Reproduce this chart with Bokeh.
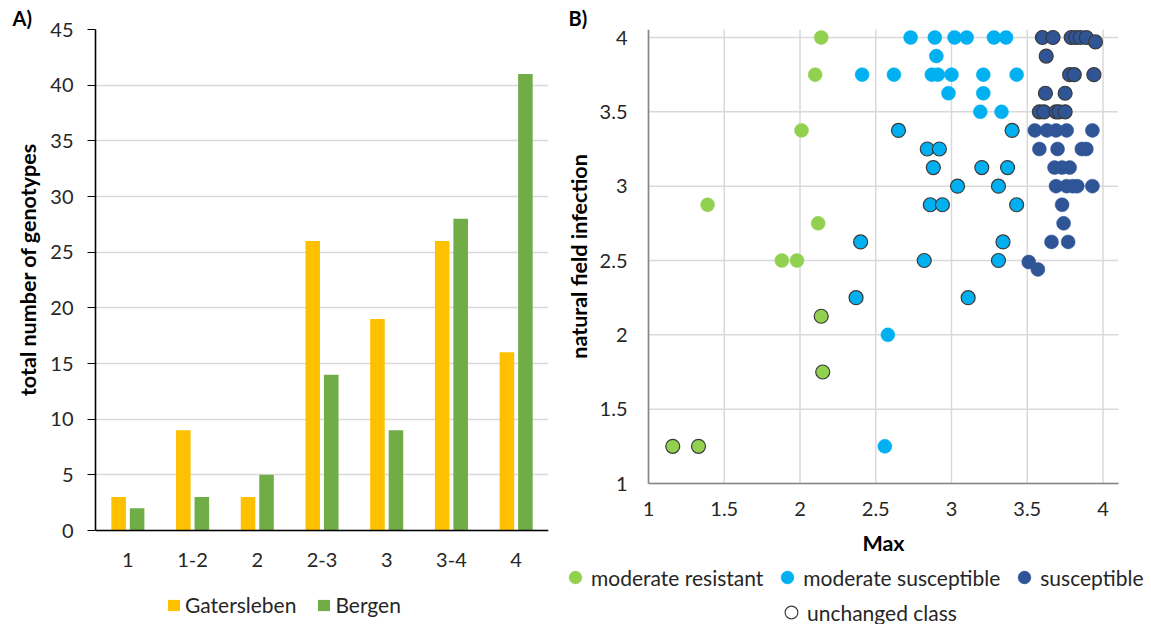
from bokeh.plotting import figure
from bokeh.layouts import row
from bokeh.models import (ColumnDataSource, FactorRange, Range1d, FixedTicker,
                          Legend, LegendItem)
from bokeh.transform import dodge
from bokeh.embed import file_html
from bokeh.resources import INLINE

FONT = "Lato"

# ---------------- Panel A data ----------------
categories = ["1", "1-2", "2", "2-3", "3", "3-4", "4"]
gatersleben = [3, 9, 3, 26, 19, 26, 16]
bergen = [2, 3, 5, 14, 9, 28, 41]
a_yticks = [0, 5, 10, 15, 20, 25, 30, 35, 40, 45]
a_min, a_max = 0, 45

# ---------------- Panel B data ----------------
# moderate resistant
mr_changed_max = [2.14, 2.10, 2.01, 1.39, 2.12, 1.88, 1.98]
mr_changed_field = [4.0, 3.75, 3.375, 2.875, 2.75, 2.5, 2.5]
mr_unchanged_max = [2.14, 2.15, 1.16, 1.33]
mr_unchanged_field = [2.125, 1.75, 1.25, 1.25]

# moderate susceptible
ms_changed_max = [2.73, 2.89, 3.02, 3.10, 3.28, 3.36, 2.90, 2.41, 2.62, 2.87,
                  2.91, 3.00, 3.21, 3.43, 2.98, 3.21, 3.19, 3.33, 2.58, 2.56]
ms_changed_field = [4.0, 4.0, 4.0, 4.0, 4.0, 4.0, 3.875, 3.75, 3.75, 3.75,
                    3.75, 3.75, 3.75, 3.75, 3.625, 3.625, 3.5, 3.5, 2.0, 1.25]
ms_unchanged_max = [2.65, 3.40, 2.84, 2.92, 2.88, 3.20, 3.37, 3.04, 3.31,
                    2.86, 2.94, 3.43, 2.40, 3.34, 2.82, 3.31, 3.11, 2.37]
ms_unchanged_field = [3.375, 3.375, 3.25, 3.25, 3.125, 3.125, 3.125, 3.0, 3.0,
                      2.875, 2.875, 2.875, 2.625, 2.625, 2.5, 2.5, 2.25, 2.25]

# susceptible
s_changed_max = [3.55, 3.63, 3.69, 3.76, 3.93, 3.58, 3.70, 3.86, 3.89,
                 3.68, 3.73, 3.78, 3.69, 3.76, 3.80, 3.83, 3.93,
                 3.73, 3.74, 3.66, 3.77, 3.51, 3.57]
s_changed_field = [3.375, 3.375, 3.375, 3.375, 3.375, 3.25, 3.25, 3.25, 3.25,
                   3.125, 3.125, 3.125, 3.0, 3.0, 3.0, 3.0, 3.0,
                   2.875, 2.75, 2.625, 2.625, 2.49, 2.44]
s_unchanged_max = [3.60, 3.67, 3.79, 3.82, 3.85, 3.89, 3.95, 3.625,
                   3.78, 3.81, 3.94, 3.62, 3.75, 3.58, 3.61, 3.69, 3.71, 3.75]
s_unchanged_field = [4.0, 4.0, 4.0, 4.0, 4.0, 4.0, 3.97, 3.875,
                     3.75, 3.75, 3.75, 3.625, 3.625, 3.5, 3.5, 3.5, 3.5, 3.5]

b_ticks = [1, 1.5, 2, 2.5, 3, 3.5, 4]
b_min, b_max = 1, 4
b_xmax = 4.1

GREEN = "#92D050"
LBLUE = "#00B0F0"
DBLUE = "#2F5597"
GRID = "#D9D9D9"
TXT = "#262626"

H = 624
W1, W2 = 565, 586
TOP = 29                         # top border (frame top) of both panels
A_TOP, A_BOTTOM = 29, 530        # pixel rows of 45 and 0 in panel A
B_TOP, B_BOTTOM = 37, 483        # pixel rows of 4 and 1 in panel B
B_X1, B_X4 = 648 - W1, 1102.5 - W1  # pixel columns of 1 and 4 in panel B


def panel_title(p, text, offset):
    p.title.text = text
    p.title.align = "left"
    p.title.text_font = FONT
    p.title.text_font_style = "bold"
    p.title.text_font_size = "20px"
    p.title.text_color = "#000000"
    p.title.standoff = 0
    try:
        p.title.offset = offset
    except ValueError:
        pass


# ================= Panel A =================
a_per_px = (a_max - a_min) / (A_BOTTOM - A_TOP)
a_low = a_min - (H - A_BOTTOM) * a_per_px
a_high = a_max + (A_TOP - TOP) * a_per_px
src_a = ColumnDataSource(dict(cat=categories, g=gatersleben, b=bergen))
p1 = figure(x_range=FactorRange(*categories), y_range=Range1d(a_low, a_high),
            width=W1, height=H, output_backend="svg", toolbar_location=None,
            min_border_left=95, min_border_right=17, min_border_top=TOP,
            min_border_bottom=0)
p1.outline_line_color = None
panel_title(p1, "A)", -83)
r_g = p1.vbar(x=dodge("cat", -0.143, range=p1.x_range), top="g", width=0.225,
              source=src_a, fill_color="#FFC000", line_color=None)
r_b = p1.vbar(x=dodge("cat", 0.143, range=p1.x_range), top="b", width=0.225,
              source=src_a, fill_color="#70AD47", line_color=None)

p1.xgrid.grid_line_color = None
p1.ygrid.grid_line_color = GRID
p1.ygrid.grid_line_width = 1.5
p1.yaxis.ticker = FixedTicker(ticks=a_yticks)
p1.yaxis.bounds = (a_min, a_max)
p1.xaxis.fixed_location = a_min
for ax in (p1.xaxis[0], p1.yaxis[0]):
    ax.axis_line_color = "#000000"
    ax.axis_line_width = 1.6
    ax.major_label_text_font = FONT
    ax.major_label_text_font_size = "20px"
    ax.major_label_text_color = TXT
    ax.minor_tick_line_color = None
p1.xaxis.major_tick_line_color = None
p1.xaxis.major_tick_out = 0
p1.xaxis.major_tick_in = 0
p1.xaxis.major_label_standoff = 22
p1.yaxis.major_tick_line_color = "#000000"
p1.yaxis.major_tick_out = 8
p1.yaxis.major_tick_in = 0
p1.yaxis.major_label_standoff = 14
# leading no-break spaces lift the centred title to the middle of the 0-45 axis
p1.yaxis.axis_label = "\u00a0" * 22 + "total number of genotypes"
p1.yaxis.axis_label_text_font = FONT
p1.yaxis.axis_label_text_font_style = "bold"
p1.yaxis.axis_label_text_font_size = "21.5px"
p1.yaxis.axis_label_text_color = "#000000"
p1.yaxis.axis_label_standoff = 6

leg_a = Legend(items=[LegendItem(label="Gatersleben", renderers=[r_g]),
                      LegendItem(label="Bergen", renderers=[r_b])],
               orientation="horizontal", location=(71, 7),
               glyph_width=15, glyph_height=14, label_standoff=4, spacing=20,
               padding=0, margin=0, border_line_color=None,
               background_fill_alpha=0, label_text_font=FONT,
               label_text_font_size="21px", label_text_color=TXT)
p1.add_layout(leg_a)

# ================= Panel B =================
b_per_py = (b_max - b_min) / (B_BOTTOM - B_TOP)
b_low = b_min - (H - B_BOTTOM) * b_per_py
b_high = b_max + (B_TOP - TOP) * b_per_py
b_per_px = (b_max - b_min) / (B_X4 - B_X1)
b_xlow = b_min - B_X1 * b_per_px
b_xhigh = b_max + (W2 - B_X4) * b_per_px
p2 = figure(x_range=Range1d(b_xlow, b_xhigh), y_range=Range1d(b_low, b_high),
            width=W2, height=H, output_backend="svg", toolbar_location=None,
            min_border_left=0, min_border_right=0, min_border_top=TOP,
            min_border_bottom=0)
p2.outline_line_color = None
panel_title(p2, "B)", 3)
p2.xaxis.ticker = FixedTicker(ticks=b_ticks)
p2.yaxis.ticker = FixedTicker(ticks=b_ticks)
p2.xaxis.fixed_location = b_min
p2.yaxis.fixed_location = b_min
p2.xaxis.bounds = (b_min, b_xmax)
p2.yaxis.bounds = (b_min, b_high)
p2.xgrid.grid_line_color = None
p2.ygrid.grid_line_color = None
n = len(b_ticks)
p2.segment(x0=b_ticks, y0=[b_min] * n, x1=b_ticks, y1=[b_high] * n,
           line_color=GRID, line_width=1.5, level="underlay")
p2.segment(x0=[b_min] * n, y0=b_ticks, x1=[b_xmax] * n, y1=b_ticks,
           line_color=GRID, line_width=1.5, level="underlay")
for ax in (p2.xaxis[0], p2.yaxis[0]):
    ax.axis_line_color = "#868686"
    ax.axis_line_width = 1.6
    ax.major_tick_line_color = None
    ax.minor_tick_line_color = None
    ax.major_tick_out = 0
    ax.major_tick_in = 0
    ax.major_label_text_font = FONT
    ax.major_label_text_font_size = "20px"
    ax.major_label_text_color = TXT
    ax.axis_label_text_font = FONT
    ax.axis_label_text_font_style = "bold"
    ax.axis_label_text_font_size = "21.5px"
    ax.axis_label_text_color = "#000000"
p2.xaxis.major_label_standoff = 18
p2.yaxis.major_label_standoff = 21
p2.xaxis.axis_label = "Max"
p2.xaxis.axis_label_standoff = 11
p2.yaxis.axis_label = "natural field infection"
p2.yaxis.axis_label_standoff = 5

OUT = "#3A3A3A"
SIZE = 14

# legend swatch for "unchanged class": drawn first, hidden under the points
r_un = p2.scatter(mr_unchanged_max, mr_unchanged_field, size=SIZE - 2,
                  fill_color="#FFFFFF", line_color="#404040", line_width=1.2)


def series(xs, ys, color, outlined):
    src = ColumnDataSource(dict(x=xs, y=ys))
    if outlined:
        return p2.scatter("x", "y", source=src, size=SIZE, fill_color=color,
                          line_color=OUT, line_width=1.2)
    return p2.scatter("x", "y", source=src, size=SIZE, fill_color=color,
                      line_color=color, line_width=0.5)


r_mr = series(mr_changed_max, mr_changed_field, GREEN, False)
series(mr_unchanged_max, mr_unchanged_field, GREEN, True)
r_ms = series(ms_changed_max, ms_changed_field, LBLUE, False)
series(ms_unchanged_max, ms_unchanged_field, LBLUE, True)
r_s = series(s_changed_max, s_changed_field, DBLUE, False)
series(s_unchanged_max, s_unchanged_field, DBLUE, True)

leg_common = dict(orientation="horizontal", glyph_width=32, glyph_height=32,
                  label_standoff=0, spacing=8, padding=0, margin=0,
                  border_line_color=None, background_fill_alpha=0,
                  label_text_font=FONT, label_text_font_size="21px",
                  label_text_color=TXT)
leg_b1 = Legend(items=[LegendItem(label="moderate resistant", renderers=[r_mr]),
                       LegendItem(label="moderate susceptible", renderers=[r_ms]),
                       LegendItem(label="susceptible", renderers=[r_s])],
                location=(-6, 31), **leg_common)
leg_b2 = Legend(items=[LegendItem(label="unchanged class", renderers=[r_un])],
                location=(210, -4), **leg_common)
p2.add_layout(leg_b1)
p2.add_layout(leg_b2)

layout = row(p1, p2)
open("out.html", "w").write(file_html(layout, INLINE))
